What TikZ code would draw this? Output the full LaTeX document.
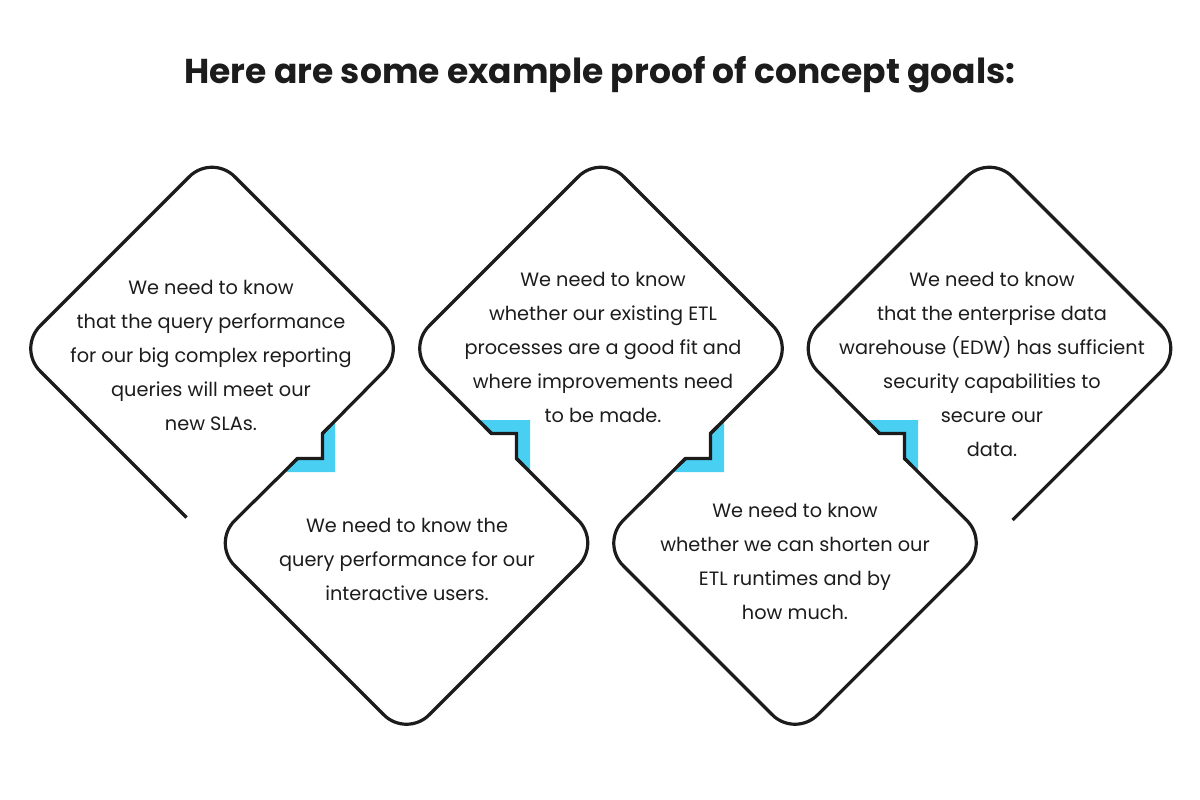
\documentclass[tikz,border=0pt]{standalone}
\usepackage{fontspec}
\setmainfont{Poppins}
\usetikzlibrary{calc}
\definecolor{ink}{RGB}{28,28,28}
\definecolor{cyanblue}{RGB}{73,207,241}
\begin{document}
\begin{tikzpicture}[x=1pt,y=-1pt,
  outline/.style={draw=ink,line width=3.2pt,rounded corners=32pt},
  notchline/.style={draw=ink,line width=3.2pt,line join=miter,sharp corners},
  goal/.style={align=center,text=ink,font=\fontsize{19.3}{34}\selectfont,inner sep=0pt},
  titletext/.style={text=ink,font=\fontsize{34.5}{40}\selectfont\bfseries,inner sep=0pt},
  bluepatch/.style={fill=cyanblue,draw=none}]
\useasboundingbox (0,0) rectangle (1200,800);
\fill[white] (0,0) rectangle (1200,800);
% corner points
\coordinate (Astart) at (186.5,517.5);
\coordinate (Al) at (17.5,348.5);
\coordinate (At) at (212,154);
\coordinate (Ar) at (406.5,348.5);
\coordinate (N1a) at (322.5,433.5);
\coordinate (N1b) at (322.5,458.5);
\coordinate (N1c) at (297.5,458.5);
\coordinate (Bl) at (212,543);
\coordinate (Bb) at (406.5,737.5);
\coordinate (Br) at (601,543);
\coordinate (N2a) at (516.5,458.5);
\coordinate (N2b) at (516.5,433.5);
\coordinate (N2c) at (491.5,433.5);
\coordinate (Cl) at (406.5,348.5);
\coordinate (Ct) at (601,154);
\coordinate (Cr) at (795.5,348.5);
\coordinate (N3a) at (710.5,433.5);
\coordinate (N3b) at (710.5,458.5);
\coordinate (N3c) at (685.5,458.5);
\coordinate (Dl) at (600.5,543);
\coordinate (Db) at (795,737.5);
\coordinate (Dr) at (989.5,543);
\coordinate (N4a) at (904.5,458.5);
\coordinate (N4b) at (904.5,433.5);
\coordinate (N4c) at (879.5,433.5);
\coordinate (El) at (795,348.5);
\coordinate (Et) at (989.5,154);
\coordinate (Er) at (1184,348.5);
\coordinate (Eend) at (1012.5,520);
% blue patches
\fill[bluepatch] (333.9,422) -- (335,422) -- (335,472) -- (285,472) -- (285,470.9) -- (N1c) -- (N1b) -- (N1a) -- cycle;
\fill[bluepatch] (480,420) -- (530,420) -- (530,470) -- (528,470) -- (N2a) -- (N2b) -- (N2c) -- (480,422) -- cycle;
\fill[bluepatch] (722,422) -- (724,422) -- (724,472) -- (674,472) -- (674,469.9) -- (N3c) -- (N3b) -- (N3a) -- cycle;
\fill[bluepatch] (868,420) -- (918,420) -- (918,470) -- (916.1,470) -- (N4a) -- (N4b) -- (N4c) -- (868,421.9) -- cycle;
% outline pieces
\draw[outline] (Astart) -- (Al) -- (At) -- (Ar) -- (N1a);
\draw[notchline] ($(N1a)!10pt!(Ar)$) -- (N1a) -- (N1b) -- (N1c) -- ($(N1c)!10pt!(Bl)$);
\draw[outline] (N1c) -- (Bl) -- (Bb) -- (Br) -- (N2a);
\draw[notchline] ($(N2a)!10pt!(Br)$) -- (N2a) -- (N2b) -- (N2c) -- ($(N2c)!10pt!(Cl)$);
\draw[outline] (N2c) -- (Cl) -- (Ct) -- (Cr) -- (N3a);
\draw[notchline] ($(N3a)!10pt!(Cr)$) -- (N3a) -- (N3b) -- (N3c) -- ($(N3c)!10pt!(Dl)$);
\draw[outline] (N3c) -- (Dl) -- (Db) -- (Dr) -- (N4a);
\draw[notchline] ($(N4a)!10pt!(Dr)$) -- (N4a) -- (N4b) -- (N4c) -- ($(N4c)!10pt!(El)$);
\draw[outline] (N4c) -- (El) -- (Et) -- (Er) -- (Eend);
% texts
\node[titletext] (title) at (600,75) {Here are some example proof of concept goals:};
\node[goal] (ta) at (211,355) {We need to know\\that the query performance\\for our big complex reporting\\queries will meet our\\new SLAs.};
\node[goal] (tb) at (407,559) {We need to know the\\query performance for our\\interactive users.};
\node[goal] (tc) at (603,347) {We need to know\\whether our existing ETL\\processes are a good fit and\\where improvements need\\to be made.};
\node[goal] (td) at (795,561) {We need to know\\whether we can shorten our\\ETL runtimes and by\\how much.};
\node[goal] (te) at (992,364.5) {We need to know\\that the enterprise data\\warehouse (EDW) has sufficient\\security capabilities to\\secure our\\data.};
\end{tikzpicture}
\end{document}
